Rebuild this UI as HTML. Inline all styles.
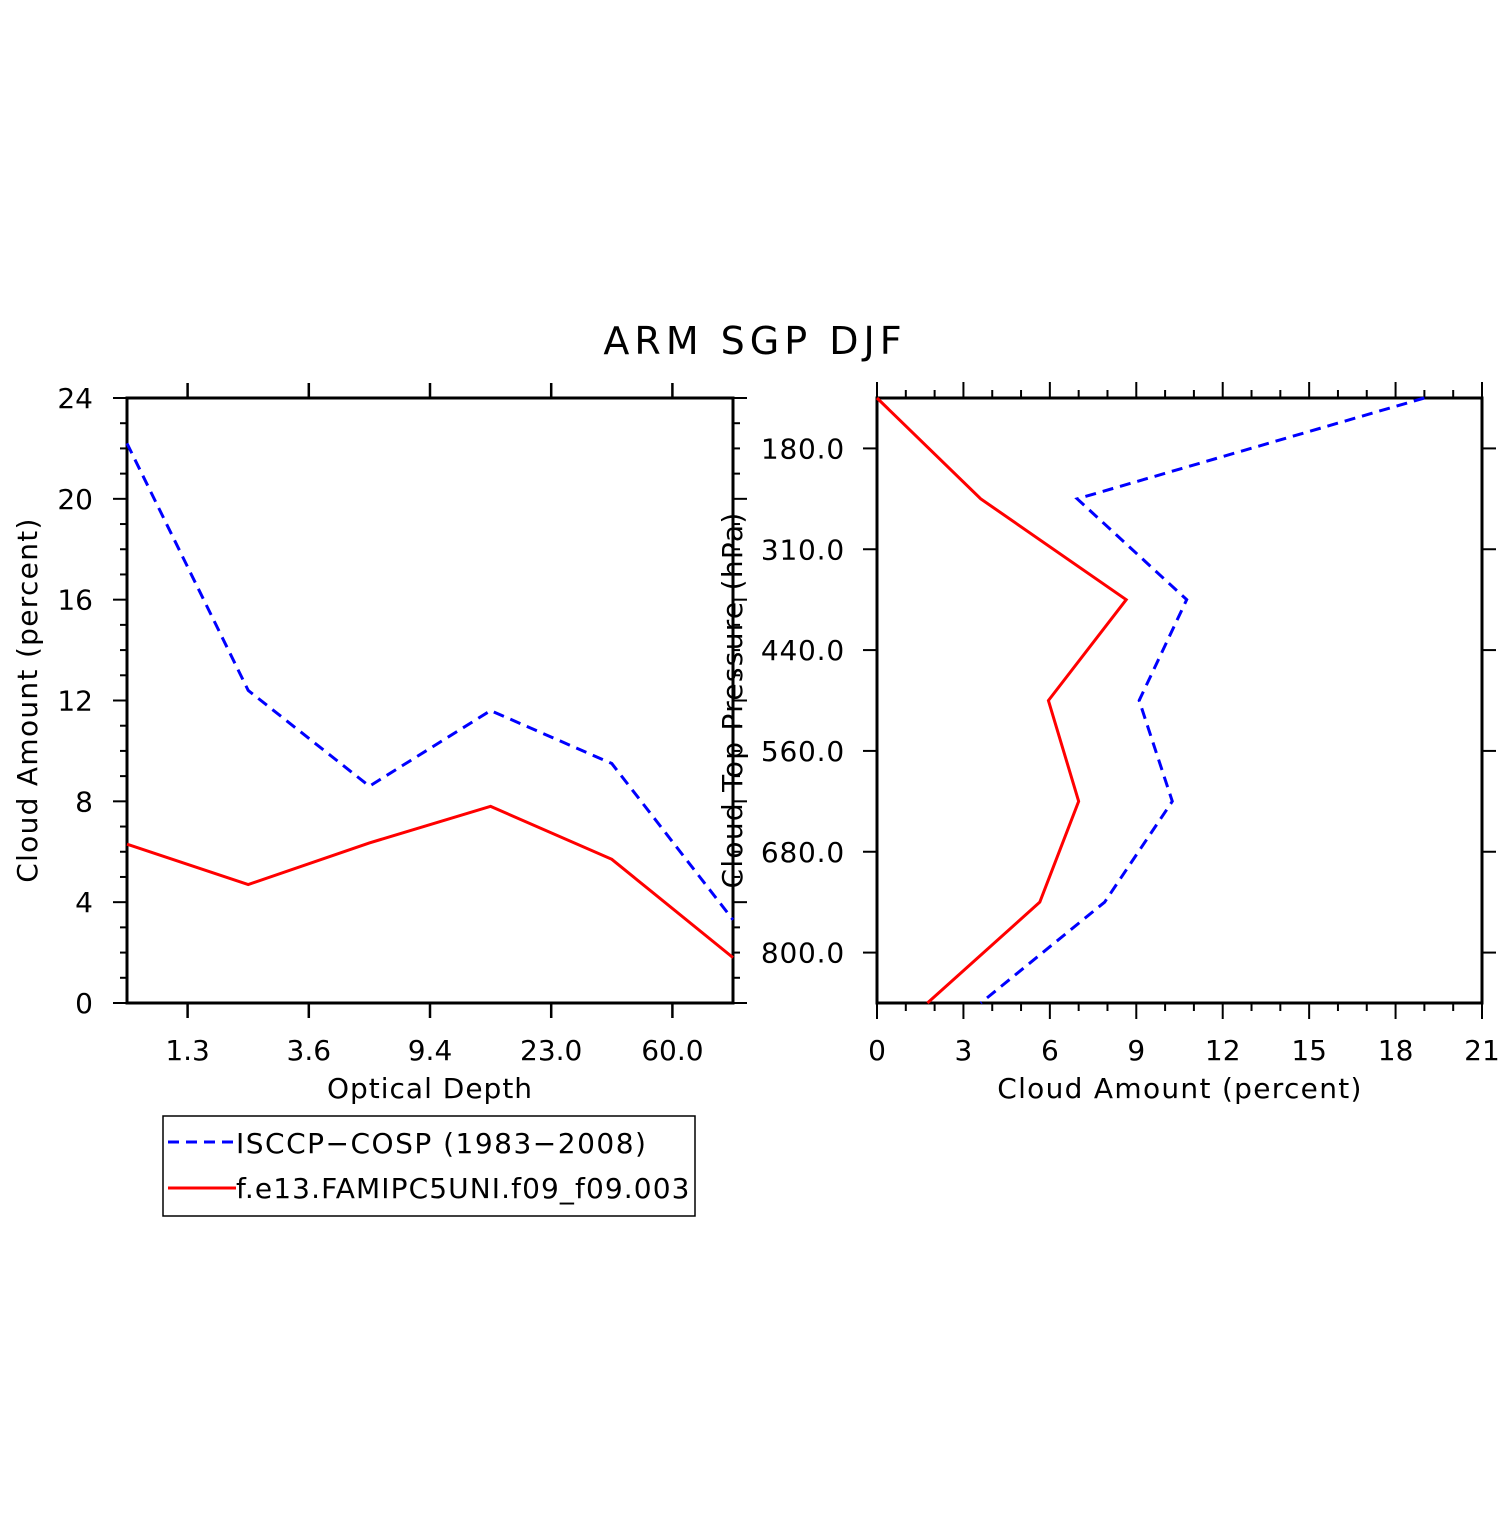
<!DOCTYPE html>
<html><head><meta charset="utf-8"><style>
body{margin:0;background:#fff}
svg text{font-family:"DejaVu Sans","Liberation Sans",sans-serif;fill:#000}
</style></head><body>
<svg id="c" width="1510" height="1510" xmlns="http://www.w3.org/2000/svg">
<text x="755" y="354" font-size="38" text-anchor="middle" letter-spacing="5">ARM SGP DJF</text>
<g id="L"></g>
<g id="R"></g>
<g>
<rect x="163" y="1116" width="532" height="100" fill="none" stroke="#000" stroke-width="1.5"/>
<line x1="168" y1="1142" x2="236" y2="1142" stroke="#00f" stroke-width="3" stroke-dasharray="11,7"/>
<text x="236" y="1153" font-size="28" letter-spacing="1.5">ISCCP−COSP (1983−2008)</text>
<line x1="168" y1="1188" x2="236" y2="1188" stroke="#f00" stroke-width="3"/>
<text x="236" y="1198" font-size="28" letter-spacing="1.1">f.e13.FAMIPC5UNI.f09_f09.003</text>
</g>
</svg>
<script>
const tauLabels=["1.3","3.6","9.4","23.0","60.0"];
const leftYTicks=[0,4,8,12,16,20,24];
const leftObs=[22.2,12.4,8.6,11.6,9.5,3.3];
const leftModel=[6.3,4.7,6.35,7.8,5.7,1.8];
const presLabels=["180.0","310.0","440.0","560.0","680.0","800.0"];
const rightXTicks=[0,3,6,9,12,15,18,21];
const rightObs=[19.0,6.95,10.75,9.1,10.25,7.9,3.6];
const rightModel=[0,3.6,8.65,5.95,7.0,5.65,1.75];
const NS="http://www.w3.org/2000/svg";
function mk(p,t,a){const e=document.createElementNS(NS,t);for(const k in a)e.setAttribute(k,a[k]);p.appendChild(e);return e;}
function ln(p,x1,y1,x2,y2,w){return mk(p,'line',{x1,y1,x2,y2,stroke:'#000','stroke-width':w||2.5});}
// left
const L=document.getElementById('L');
const lx0=127,lx1=733,ly0=1003,ly1=398;
const lxs=i=>lx0+i*(lx1-lx0)/5, lys=v=>ly0-v*(ly0-ly1)/24;
mk(L,'rect',{x:lx0,y:ly1,width:lx1-lx0,height:ly0-ly1,fill:'none',stroke:'#000','stroke-width':3});
for(let v=0;v<=24;v++){const y=lys(v);const m=v%4==0;
 ln(L,lx0-(m?14:7),y,lx0,y,2);ln(L,lx1,y,lx1+(m?14:7),y,2);}
leftYTicks.forEach(v=>{const t=mk(L,'text',{x:lx0-34,y:lys(v)+10,'font-size':28,'text-anchor':'end'});t.textContent=v;

});
tauLabels.forEach((s,i)=>{const x=lxs(i+0.5);ln(L,x,ly0,x,ly0+15,2.5);ln(L,x,ly1,x,ly1-15,2.5);
 const t=mk(L,'text',{x,y:1060,'font-size':28,'text-anchor':'middle'});t.textContent=s;
 
 });
let t=mk(L,'text',{x:430,y:1098,'font-size':28,'text-anchor':'middle','letter-spacing':1});t.textContent='Optical Depth';


t=mk(L,'text',{x:0,y:0,'font-size':28,'text-anchor':'middle','letter-spacing':1.3,transform:'translate(37,700) rotate(-90)'});t.textContent='Cloud Amount (percent)';


let p=mk(L,'polyline',{points:leftObs.map((v,i)=>lxs(i)+','+lys(v)).join(' '),fill:'none',stroke:'#00f','stroke-width':3,'stroke-dasharray':'11,7'});


p=mk(L,'polyline',{points:leftModel.map((v,i)=>lxs(i)+','+lys(v)).join(' '),fill:'none',stroke:'#f00','stroke-width':3});


// right
const R=document.getElementById('R');
const rx0=877,rx1=1482,ry0=398,ry1=1003;
const rxs=v=>rx0+v*(rx1-rx0)/21, rys=i=>ry0+i*(ry1-ry0)/6;
mk(R,'rect',{x:rx0,y:ry0,width:rx1-rx0,height:ry1-ry0,fill:'none',stroke:'#000','stroke-width':3});
for(let v=0;v<=21;v++){const x=rxs(v);const m=v%3==0;
 ln(R,x,ry0-(m?16:8),x,ry0,2);ln(R,x,ry1,x,ry1+(m?16:8),2);}
rightXTicks.forEach(v=>{const t=mk(R,'text',{x:rxs(v),y:1060,'font-size':28,'text-anchor':'middle'});t.textContent=v;
 
 });
presLabels.forEach((s,i)=>{const y=rys(i+0.5);ln(R,rx0-14,y,rx0,y,2);ln(R,rx1,y,rx1+14,y,2);
 const t=mk(R,'text',{x:rx0-32,y:y+10,'font-size':28,'text-anchor':'end','letter-spacing':0.8});t.textContent=s;
 
 });
t=mk(R,'text',{x:1180,y:1098,'font-size':28,'text-anchor':'middle','letter-spacing':1.3});t.textContent='Cloud Amount (percent)';


t=mk(R,'text',{x:0,y:0,'font-size':28,'text-anchor':'middle','letter-spacing':1.3,transform:'translate(742,700) rotate(-90)'});t.textContent='Cloud Top Pressure (hPa)';


p=mk(R,'polyline',{points:rightObs.map((v,i)=>rxs(v)+','+rys(i)).join(' '),fill:'none',stroke:'#00f','stroke-width':3,'stroke-dasharray':'11,7'});


p=mk(R,'polyline',{points:rightModel.map((v,i)=>rxs(v)+','+rys(i)).join(' '),fill:'none',stroke:'#f00','stroke-width':3});


</script>
</body></html>
